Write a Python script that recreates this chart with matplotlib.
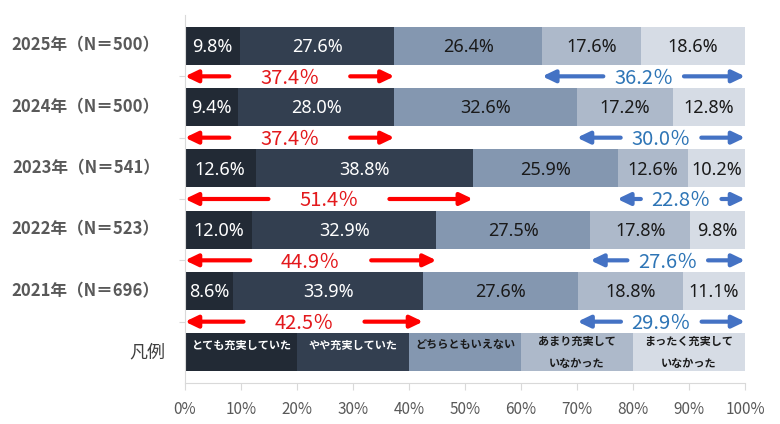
import matplotlib
matplotlib.use("Agg")
import matplotlib.pyplot as plt
import numpy as np

plt.rcParams['font.family'] = ['Noto Sans CJK JP', 'DejaVu Sans']

# ---- data ----
years = ['2025年（N＝500）', '2024年（N＝500）', '2023年（N＝541）',
         '2022年（N＝523）', '2021年（N＝696）']
very = [9.8, 9.4, 12.6, 12.0, 8.6]
somewhat = [27.6, 28.0, 38.8, 32.9, 33.9]
neutral = [26.4, 32.6, 25.9, 27.5, 27.6]
notmuch = [17.6, 17.2, 12.6, 17.8, 18.8]
notatall = [18.6, 12.8, 10.2, 9.8, 11.1]
legend_title = '凡例'
legend_labels = ['とても充実していた', 'やや充実していた', 'どちらともいえない',
                 'あまり充実して\nいなかった', 'まったく充実して\nいなかった']
legend_widths = [20, 20, 20, 20, 20]
xticks = [0, 10, 20, 30, 40, 50, 60, 70, 80, 90, 100]

# ---- style ----
colors = ['#222a35', '#333f50', '#8497b0', '#adb9ca', '#d6dce5']
text_colors = ['white', 'white', '#1a1a1a', '#1a1a1a', '#1a1a1a']
red_arrow, red_text = '#ff0000', '#e3191c'
blue_arrow, blue_text = '#4472c4', '#2e75b6'
grid_c = '#d9d9d9'

fig = plt.figure(figsize=(7.8, 4.24), dpi=100)
ax = fig.add_axes([185/780, 1-383/424, 560/780, 368/424])
ax.set_xlim(0, 100)
ax.set_ylim(5.5, -0.5)

series = [very, somewhat, neutral, notmuch, notatall]
bar_h = 0.62
for i in range(len(years)):
    left = 0.0
    for k, s in enumerate(series):
        v = s[i]
        ax.barh(i, v, left=left, height=bar_h, color=colors[k], edgecolor='none')
        ax.text(left + v/2, i + 0.02, f'{v:.1f}%', ha='center', va='center',
                color=text_colors[k], fontsize=13, family=['Noto Sans', 'DejaVu Sans'])
        left += v

# legend row
li = len(years)
left = 0.0
for k, (w, lab) in enumerate(zip(legend_widths, legend_labels)):
    ax.barh(li, w, left=left, height=bar_h, color=colors[k], edgecolor='none')
    if '\n' in lab:
        ax.text(left + w/2, li, lab, ha='center', va='center', color=text_colors[k],
                fontsize=8, fontweight='bold', linespacing=1.9)
    else:
        ax.text(left + w/2, li - 0.12, lab, ha='center', va='center', color=text_colors[k],
                fontsize=8, fontweight='bold')
    left += w

# arrows
def arrow(x0, x1, y, c):
    ax.annotate('', xy=(x1, y), xytext=(x0, y),
                arrowprops=dict(arrowstyle='-|>,head_length=0.75,head_width=0.36',
                                lw=3.0, color=c, shrinkA=0, shrinkB=0,
                                mutation_scale=10))

for i in range(len(years)):
    y = i + 0.5
    pos = very[i] + somewhat[i]
    c = pos / 2
    arrow(c - 10.8, 0, y, red_arrow)
    arrow(c + 10.8, pos, y, red_arrow)
    ax.text(c, y + 0.03, f'{pos:.1f}％', ha='center', va='center', color=red_text, fontsize=14.5)
    neg = notmuch[i] + notatall[i]
    s = 100 - neg
    c = (s + 100) / 2
    arrow(c - 7.2, s, y, blue_arrow)
    arrow(c + 7.2, 100, y, blue_arrow)
    ax.text(c, y + 0.03, f'{neg:.1f}％', ha='center', va='center', color=blue_text, fontsize=14.5)

# y labels
for i, lab in enumerate(years):
    ax.text(-0.045, i, lab, transform=ax.get_yaxis_transform(), ha='right', va='center',
            color='#595959', fontsize=12, fontweight='bold')
ax.text(-0.035, li, legend_title, transform=ax.get_yaxis_transform(), ha='right', va='center',
        color='#404040', fontsize=13)

# axes styling
ax.set_yticks([i + 0.5 for i in range(len(years))])
ax.set_yticklabels([])
ax.tick_params(axis='y', length=4, color=grid_c)
ax.set_xticks(xticks)
ax.set_xticklabels([f'{t}%' for t in xticks], color='#595959', fontsize=11)
ax.tick_params(axis='x', length=5, color=grid_c, pad=8)
for sp in ['top', 'right']:
    ax.spines[sp].set_visible(False)
ax.spines['left'].set_color(grid_c)
ax.spines['bottom'].set_color(grid_c)

fig.savefig('out.png', dpi=100)
